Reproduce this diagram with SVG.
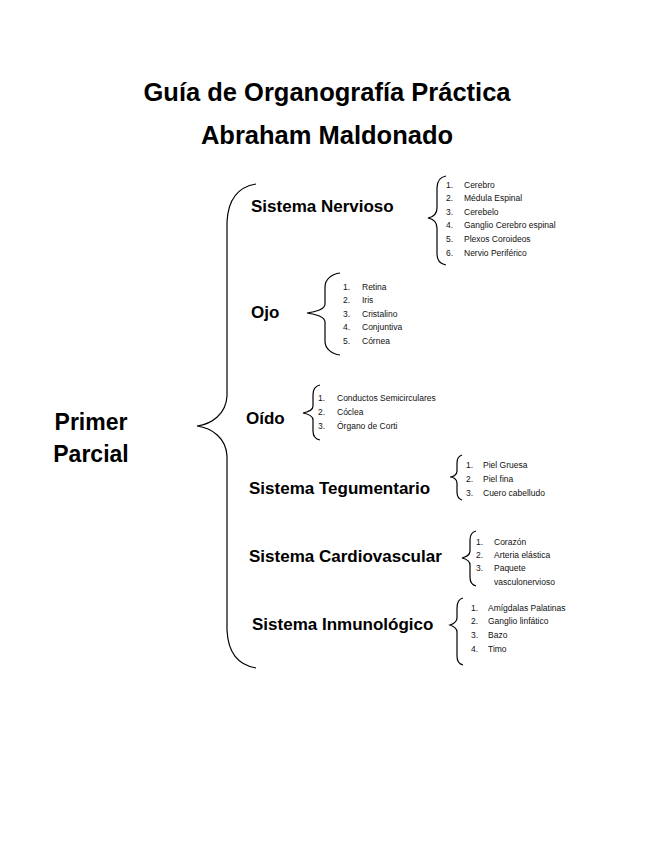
<svg xmlns="http://www.w3.org/2000/svg" width="655" height="848" viewBox="0 0 655 848">
<style>
.t{font-family:"Liberation Sans",Arial,sans-serif;font-weight:bold;fill:#000}
.title{font-size:25.5px;text-anchor:middle}
.root{font-size:23px;text-anchor:middle}
.sec{font-size:17px}
.it{font-family:"Liberation Sans",Arial,sans-serif;font-size:8.5px;fill:#111}
.br{fill:none;stroke:#000;stroke-width:1.2}
</style>
<rect width="655" height="848" fill="#fff"/>
<g id="title">
<text class="t title" x="327" y="101">Guía de Organografía Práctica</text>
<text class="t title" x="327" y="144">Abraham Maldonado</text>
</g>
<g id="root">
<text class="t root" x="91" y="430">Primer</text>
<text class="t root" x="91" y="462">Parcial</text>
</g>
<g id="connectors">
<path class="br" d="M256,184 C238,187 228,200 227,222 L227,396 C226,414 212,424 197,426 C212,428 226,438 227,456 L227,630 C228,652 238,665 256,668"/>
<path class="br" d="M446,176 C440,177 437,181 437,188 L437,208 C437,214 433,217 428,218 C433,219 437,222 437,228 L437,254 C437,261 440,264 446,265"/>
<path class="br" d="M340,273 C332,274 325,279 325,287 L325,304 C325,309 316,312 307,313 C316,314 325,317 325,322 L325,341 C325,349 332,354 340,355"/>
<path class="br" d="M320,385 C315,386 313,390 313,395 L313,406 C313,410 308,412 303,413 C308,414 313,416 313,420 L313,431 C313,436 315,439 320,440"/>
<path class="br" d="M462,455 C459,456 457,459 457,463 L457,471 C457,475 453,477 450,477 C453,477 457,479 457,483 L457,492 C457,497 459,499 462,500"/>
<path class="br" d="M476,531 C472,532 470,535 470,540 L470,551 C470,555 466,557 462,558 C466,559 470,561 470,565 L470,577 C470,582 472,585 476,586"/>
<path class="br" d="M463,598 C459,599 457,603 457,608 L457,618 C457,622 453,624 450,625 C453,626 457,628 457,632 L457,656 C457,661 459,664 463,665"/>
</g>
<g id="nervioso">
<text class="t sec" x="251" y="212">Sistema Nervioso</text>
<text class="it" x="446" y="188">1.</text><text class="it" x="464" y="188">Cerebro</text>
<text class="it" x="446" y="201">2.</text><text class="it" x="464" y="201">Médula Espinal</text>
<text class="it" x="446" y="215">3.</text><text class="it" x="464" y="215">Cerebelo</text>
<text class="it" x="446" y="228">4.</text><text class="it" x="464" y="228">Ganglio Cerebro espinal</text>
<text class="it" x="446" y="242">5.</text><text class="it" x="464" y="242">Plexos Coroideos</text>
<text class="it" x="446" y="256">6.</text><text class="it" x="464" y="256">Nervio Periférico</text>
</g>
<g id="ojo">
<text class="t sec" x="251" y="318">Ojo</text>
<text class="it" x="343" y="290">1.</text><text class="it" x="362" y="290">Retina</text>
<text class="it" x="343" y="303">2.</text><text class="it" x="362" y="303">Iris</text>
<text class="it" x="343" y="317">3.</text><text class="it" x="362" y="317">Cristalino</text>
<text class="it" x="343" y="330">4.</text><text class="it" x="362" y="330">Conjuntiva</text>
<text class="it" x="343" y="344">5.</text><text class="it" x="362" y="344">Córnea</text>
</g>
<g id="oido">
<text class="t sec" x="246" y="424">Oído</text>
<text class="it" x="318" y="401">1.</text><text class="it" x="337" y="401">Conductos Semicirculares</text>
<text class="it" x="318" y="415">2.</text><text class="it" x="337" y="415">Cóclea</text>
<text class="it" x="318" y="429">3.</text><text class="it" x="337" y="429">Órgano de Corti</text>
</g>
<g id="tegumentario">
<text class="t sec" x="249" y="494">Sistema Tegumentario</text>
<text class="it" x="466" y="468">1.</text><text class="it" x="483" y="468">Piel Gruesa</text>
<text class="it" x="466" y="482">2.</text><text class="it" x="483" y="482">Piel fina</text>
<text class="it" x="466" y="496">3.</text><text class="it" x="483" y="496">Cuero cabelludo</text>
</g>
<g id="cardiovascular">
<text class="t sec" x="249" y="562">Sistema Cardiovascular</text>
<text class="it" x="476" y="545">1.</text><text class="it" x="494" y="545">Corazón</text>
<text class="it" x="476" y="558">2.</text><text class="it" x="494" y="558">Arteria elástica</text>
<text class="it" x="476" y="571">3.</text><text class="it" x="494" y="571">Paquete</text>
<text class="it" x="494" y="585">vasculonervioso</text>
</g>
<g id="inmunologico">
<text class="t sec" x="252" y="630">Sistema Inmunológico</text>
<text class="it" x="471" y="611">1.</text><text class="it" x="488" y="611">Amígdalas Palatinas</text>
<text class="it" x="471" y="624">2.</text><text class="it" x="488" y="624">Ganglio linfático</text>
<text class="it" x="471" y="638">3.</text><text class="it" x="488" y="638">Bazo</text>
<text class="it" x="471" y="652">4.</text><text class="it" x="488" y="652">Timo</text>
</g>
</svg>
